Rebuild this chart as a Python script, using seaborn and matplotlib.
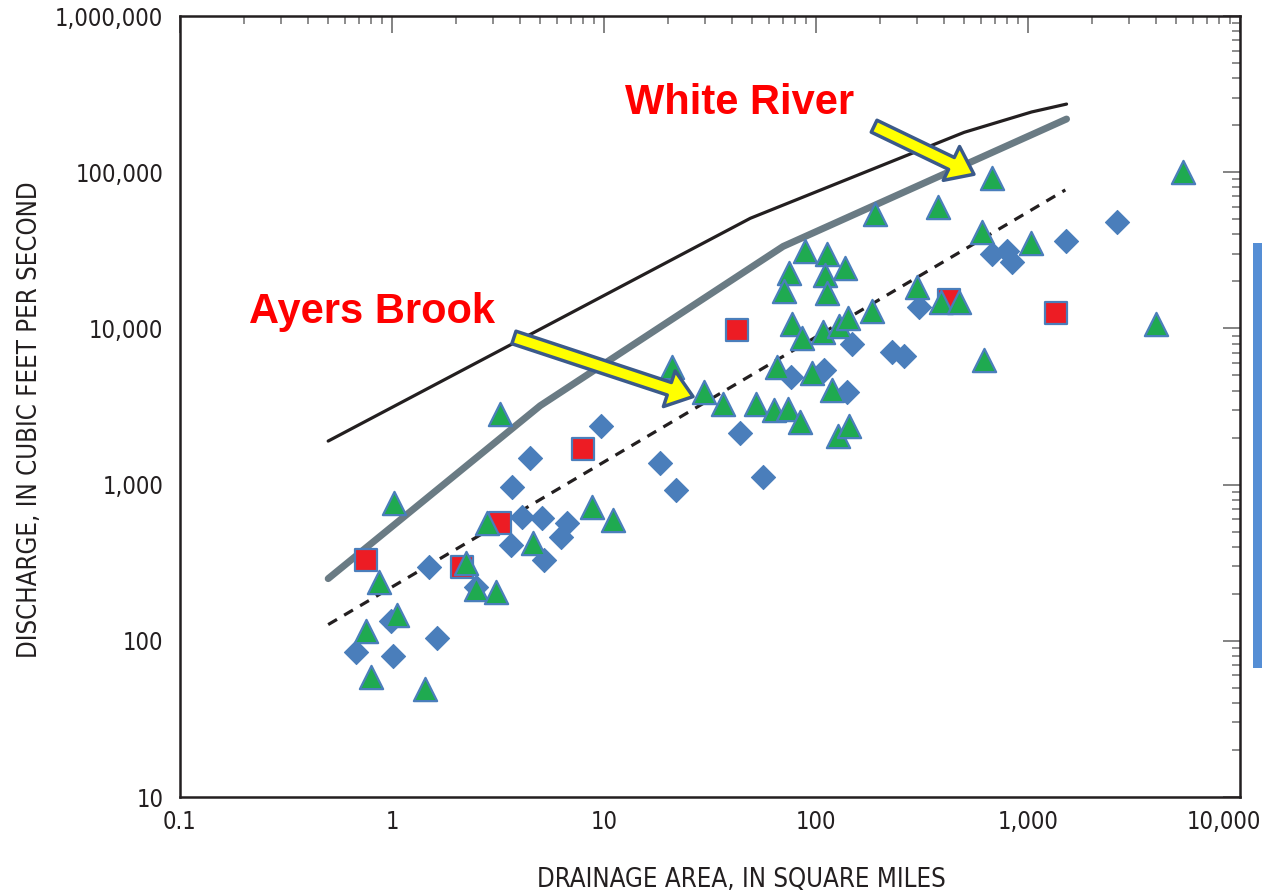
import numpy as np
import pandas as pd
import matplotlib
matplotlib.use("Agg")
import matplotlib.pyplot as plt
import seaborn as sns
from matplotlib.patches import FancyArrowPatch, Rectangle
from matplotlib.ticker import FixedLocator, FixedFormatter, NullFormatter
from matplotlib.transforms import ScaledTranslation

# ---------------- data ----------------
diamond_area = [0.68, 1.01, 1.63, 0.99, 1.5, 2.49, 3.68, 4.5, 4.1, 5.1, 3.64, 5.2, 9.7, 6.7, 6.3,
                18.4, 21.9, 43.8, 56.2, 76.2, 109, 140, 148, 228, 260, 306, 676, 796, 841, 1511, 2630]
diamond_q = [85, 80, 104, 134, 298, 222, 970, 1470, 624, 614, 412, 330, 2360, 570, 464,
             1384, 929, 2155, 1126, 4850, 5450, 3890, 7890, 7020, 6620, 13800, 29800, 31200, 26500, 36100, 47700]

triangle_area = [0.75, 0.80, 1.43, 1.06, 0.87, 1.02, 2.23, 2.5, 3.1, 3.23, 2.8, 4.6, 8.8, 11.0,
                 20.9, 29.6, 36.4, 52.1, 63.4, 73.8, 84.1, 65.5, 95.7, 119, 127, 143,
                 77, 85.9, 108, 128, 142, 184, 620, 299, 389, 473, 607, 1033, 190, 376, 676,
                 88.8, 113, 74.6, 137, 110, 70.6, 113, 5380, 4017]
triangle_q = [116, 59, 49, 147, 239, 767, 316, 215, 206, 2850, 570, 425, 723, 597,
              5620, 3890, 3260, 3260, 3025, 3070, 2500, 5700, 5220, 4060, 2060, 2360,
              10600, 8630, 9420, 10400, 11600, 12850, 6240, 18300, 14700, 14700, 41200, 35100, 53800, 59700, 91600,
              31200, 29800, 22500, 24200, 21900, 17300, 16800, 101000, 10600]

square_area = [0.75, 2.14, 3.23, 7.96, 42.4, 424, 1356]
square_q = [330, 298, 570, 1680, 9700, 15100, 12480]

envelope_area = [0.5, 49, 500, 1040, 1520]
envelope_q = [1900, 50700, 180000, 243000, 273000]

gray_area = [0.5, 5, 70, 1520]
gray_q = [250, 3200, 33500, 219000]

dashed_area = [0.5, 1500]
dashed_q = [127, 77000]

ayers_arrow_area = [3.76, 26.3]
ayers_arrow_q = [8750, 3660]
white_arrow_area = [188, 556]
white_arrow_q = [197000, 97000]

x_ticks = [0.1, 1, 10, 100, 1000, 10000]
x_ticklabels = ["0.1", "1", "10", "100", "1,000", "10,000"]
y_ticks = [10, 100, 1000, 10000, 100000, 1000000]
y_ticklabels = ["10", "100", "1,000", "10,000", "100,000", "1,000,000"]

# ---------------- style ----------------
sns.set_style("white")
plt.rcParams['font.family'] = ['DejaVu Sans']
plt.rcParams['font.stretch'] = 'condensed'

fig = plt.figure(figsize=(12.62, 8.96), dpi=100)
ax = fig.add_axes([0.14263, 0.11049, 0.83994, 0.87165])
ax.set_xscale('log')
ax.set_yscale('log')
ax.set_xlim(0.1, 10000)
ax.set_ylim(10, 1000000)

# lines
sns.lineplot(x=envelope_area, y=envelope_q, ax=ax, color='#231F20', linewidth=2.3,
             estimator=None, sort=False, zorder=2)
sns.lineplot(x=gray_area, y=gray_q, ax=ax, color='#6A7B84', linewidth=5.0,
             estimator=None, sort=False, zorder=2)
sns.lineplot(x=dashed_area, y=dashed_q, ax=ax, color='#231F20', linewidth=2.3,
             linestyle=(0, (3.2, 2.6)), estimator=None, sort=False, zorder=2)

# points
sns.scatterplot(x=diamond_area, y=diamond_q, ax=ax, marker='D', s=150,
                color='#4A7EBB', edgecolor='#4A7EBB', linewidth=0.8, zorder=3)
sns.scatterplot(x=square_area, y=square_q, ax=ax, marker='s', s=230,
                color='#ED1C24', edgecolor='#4A7EBB', linewidth=1.6, zorder=4)
sns.scatterplot(x=triangle_area, y=triangle_q, ax=ax, marker='^', s=280,
                color='#1FAA50', edgecolor='#4A7EBB', linewidth=1.6, zorder=5)

# arrows
for xs, ys in [(ayers_arrow_area, ayers_arrow_q), (white_arrow_area, white_arrow_q)]:
    arr = FancyArrowPatch((xs[0], ys[0]), (xs[1], ys[1]),
                          arrowstyle='simple,head_length=18,head_width=27,tail_width=9.5',
                          mutation_scale=1, shrinkA=0, shrinkB=0,
                          facecolor='#FFFF00', edgecolor='#3B5A8A', linewidth=2.5, zorder=6)
    ax.add_patch(arr)

# annotations
ax.text(0.528, 0.889, "White River", transform=ax.transAxes, ha='center', va='center',
        color='#FF0000', fontsize=30, fontweight='bold', fontstretch='normal',
        family=['Liberation Sans', 'DejaVu Sans'], zorder=7)
ax.text(0.181, 0.621, "Ayers Brook", transform=ax.transAxes, ha='center', va='center',
        color='#FF0000', fontsize=30, fontweight='bold', fontstretch='normal',
        family=['Liberation Sans', 'DejaVu Sans'], zorder=7)

# ticks
ax.xaxis.set_major_locator(FixedLocator(x_ticks))
ax.xaxis.set_major_formatter(FixedFormatter(x_ticklabels))
ax.yaxis.set_major_locator(FixedLocator(y_ticks))
ax.yaxis.set_major_formatter(FixedFormatter(y_ticklabels))
minor_x = [m * 10.0 ** e for e in range(-1, 4) for m in range(2, 10)]
minor_y = [m * 10.0 ** e for e in range(1, 6) for m in range(2, 10)]
ax.xaxis.set_minor_locator(FixedLocator(minor_x))
ax.yaxis.set_minor_locator(FixedLocator(minor_y))
ax.xaxis.set_minor_formatter(NullFormatter())
ax.yaxis.set_minor_formatter(NullFormatter())

ax.tick_params(which='both', direction='in', top=True, right=True, color='#6E6E6E',
               labelcolor='#231F20', labelsize=17)
ax.tick_params(which='major', length=12, width=1.2)
ax.tick_params(which='minor', length=6, width=1.1)
ax.tick_params(axis='y', which='major', pad=12)
ax.tick_params(axis='x', which='major', pad=9)
for lab in ax.get_xticklabels() + ax.get_yticklabels():
    lab.set_fontstretch('condensed')

# keep the last x tick label inside the figure, as in the reference
xlabs = ax.xaxis.get_majorticklabels()
last = xlabs[-1]
last.set_transform(last.get_transform() + ScaledTranslation(-0.16, 0, fig.dpi_scale_trans))

for sp in ax.spines.values():
    sp.set_color('#231F20')
    sp.set_linewidth(1.8)
    sp.set_visible(True)

ax.set_xlabel("")
ax.set_ylabel("")
fig.text(741 / 1262, 1 - 880 / 896, "DRAINAGE AREA, IN SQUARE MILES", ha='center', va='center',
         fontsize=18.5, color='#231F20', fontstretch='condensed')
fig.text(30 / 1262, 1 - 420 / 896, "DISCHARGE, IN CUBIC FEET PER SECOND", ha='center', va='center',
         rotation=90, fontsize=18.5, color='#231F20', fontstretch='condensed')

fig.add_artist(Rectangle((1253 / 1262, 1 - 668 / 896), 9 / 1262, 425 / 896,
                         transform=fig.transFigure, facecolor='#558ED5', edgecolor='none'))

fig.savefig("out.png", dpi=100)
